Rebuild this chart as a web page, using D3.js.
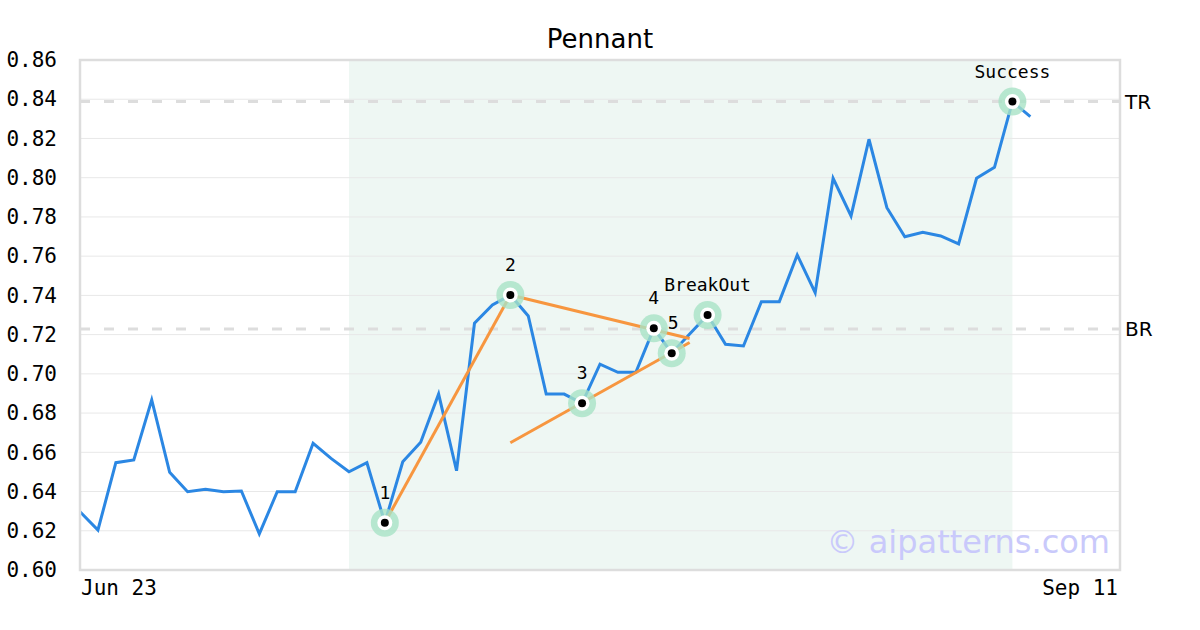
<!DOCTYPE html>
<html>
<head>
<meta charset="utf-8">
<script src="https://cdn.jsdelivr.net/npm/d3@7"></script>
<style>
  html, body { margin: 0; padding: 0; background: #fff; }
  svg { display: block; }
</style>
</head>
<body>
<svg id="chart" width="1200" height="630"></svg>
<script>
// ---- data ----
const title = "Pennant";
const xLabels = ["Jun 23", "Sep 11"];
const yTicks = [0.60, 0.62, 0.64, 0.66, 0.68, 0.70, 0.72, 0.74, 0.76, 0.78, 0.80, 0.82, 0.84, 0.86];
const prices = [
  0.6297, 0.6204, 0.6547, 0.6561, 0.6867, 0.6498, 0.6399, 0.6411, 0.6399, 0.6403,
  0.6184, 0.6399, 0.6399, 0.6646, 0.6569, 0.6501, 0.6547, 0.6241, 0.6552, 0.6651,
  0.6897, 0.6506, 0.7258, 0.7351, 0.7402, 0.7295, 0.6897, 0.6897, 0.6850, 0.7049,
  0.7008, 0.7008, 0.7232, 0.7105, 0.7203, 0.7300, 0.7151, 0.7142, 0.7368, 0.7368,
  0.7606, 0.7414, 0.7997, 0.7805, 0.8196, 0.7847, 0.7699, 0.7722, 0.7703, 0.7662,
  0.7997, 0.8053, 0.8388, 0.8311
];
const xSlots = 58;               // index range of the x axis
const shadeRange = [15, 52];     // pattern window (indices)
const levels = [{ name: "TR", value: 0.8388 }, { name: "BR", value: 0.7229 }];
const pivotIdx = [17, 24, 28, 32, 33, 35, 52];
const pivotNames = ["1", "2", "3", "4", "5", "BreakOut", "Success"];
const trendLines = [
  [[17, 0.6241], [24, 0.7402]],
  [[24, 0.7402], [34, 0.7180]],
  [[24, 0.6649], [34, 0.7160]]
];
const watermark = "© aipatterns.com";

// ---- layout ----
const svg = d3.select("#chart");
const m = { left: 80, right: 1120, top: 60, bottom: 570 };
const x = d3.scaleLinear().domain([0, xSlots]).range([m.left, m.right]);
const y = d3.scaleLinear().domain([0.60, 0.86]).range([m.bottom, m.top]);
const mono = "'DejaVu Sans Mono', monospace";
const sans = "'DejaVu Sans', sans-serif";

// shaded window
svg.append("rect")
  .attr("x", x(shadeRange[0])).attr("y", m.top)
  .attr("width", x(shadeRange[1]) - x(shadeRange[0]))
  .attr("height", m.bottom - m.top)
  .attr("fill", "#eef7f3");

// grid
svg.append("g").selectAll("line").data(yTicks).join("line")
  .attr("x1", m.left).attr("x2", m.right)
  .attr("y1", d => y(d)).attr("y2", d => y(d))
  .attr("stroke", "#e8e8e8").attr("stroke-width", 1);

// y axis labels
const yAxis = d3.axisLeft(y).tickValues(yTicks).tickFormat(d3.format(".2f")).tickSize(0).tickPadding(23);
const gy = svg.append("g").attr("transform", `translate(${m.left},0)`).call(yAxis);
gy.select(".domain").remove();
gy.selectAll("text").attr("font-family", mono).attr("font-size", 21).attr("fill", "#000");

// x labels
svg.append("text").attr("x", x(0) + 1).attr("y", 595)
  .attr("font-family", mono).attr("font-size", 21).text(xLabels[0]);
svg.append("text").attr("x", x(xSlots) - 2).attr("y", 595).attr("text-anchor", "end")
  .attr("font-family", mono).attr("font-size", 21).text(xLabels[1]);

// level dashed lines
svg.append("g").selectAll("line").data(levels).join("line")
  .attr("x1", m.left).attr("x2", m.right)
  .attr("y1", d => y(d.value)).attr("y2", d => y(d.value))
  .attr("stroke", "#dddddd").attr("stroke-width", 3).attr("stroke-dasharray", "10,14");
svg.append("g").selectAll("text").data(levels).join("text")
  .attr("x", m.right + 5).attr("y", d => y(d.value)).attr("dy", "0.36em")
  .attr("font-family", sans).attr("font-size", 20).text(d => d.name);

// watermark
svg.append("text").attr("x", 1110).attr("y", 553).attr("text-anchor", "end")
  .attr("font-family", sans).attr("font-size", 32).attr("fill", "#c9c9fb").text(watermark);

// price line
const line = d3.line().x((d, i) => x(i)).y(d => y(d));
svg.append("path").datum(prices).attr("d", line)
  .attr("fill", "none").attr("stroke", "#2b87e3").attr("stroke-width", 3).attr("stroke-linejoin", "miter");

// trend lines
const tl = d3.line().x(d => x(d[0])).y(d => y(d[1]));
svg.append("g").selectAll("path").data(trendLines).join("path")
  .attr("d", tl).attr("fill", "none").attr("stroke", "#f7963f").attr("stroke-width", 3);

// pivot markers
const pv = svg.append("g").selectAll("g").data(pivotIdx).join("g")
  .attr("transform", d => `translate(${x(d)},${y(prices[d])})`);
pv.append("circle").attr("r", 14).attr("fill", "#a8e2c6").attr("fill-opacity", 0.8);
pv.append("circle").attr("r", 7.5).attr("fill", "#fff");
pv.append("circle").attr("r", 4).attr("fill", "#000");

// pivot labels
svg.append("g").selectAll("text").data(pivotIdx).join("text")
  .attr("x", (d, i) => x(d) + (pivotNames[i] === "5" ? -4 : 0))
  .attr("y", (d, i) => y(prices[d]) - 24)
  .attr("text-anchor", (d, i) => pivotNames[i] === "5" ? "start" : "middle")
  .attr("font-family", mono).attr("font-size", 18).attr("fill", "#000")
  .text((d, i) => pivotNames[i]);

// plot border
svg.append("rect").attr("x", m.left).attr("y", m.top)
  .attr("width", m.right - m.left).attr("height", m.bottom - m.top)
  .attr("fill", "none").attr("stroke", "#dddddd").attr("stroke-width", 2.5);

// title
svg.append("text").attr("x", 600).attr("y", 48).attr("text-anchor", "middle")
  .attr("font-family", sans).attr("font-size", 26).text(title);
</script>
</body>
</html>
